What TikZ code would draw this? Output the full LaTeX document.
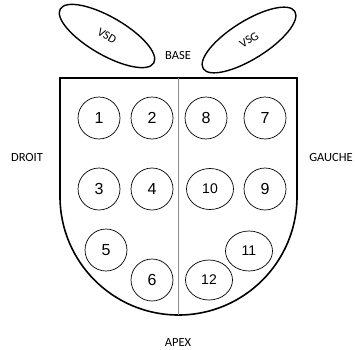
\documentclass[tikz,border=0pt]{standalone}
\usepackage{fontspec}
\setmainfont{Carlito}
\newfontfamily\numfont{Liberation Sans}
\usetikzlibrary{shapes.geometric}
\tikzset{
  seg/.style={circle,draw,line width=0.7pt,minimum size=42pt,inner sep=0pt,font=\numfont\fontsize{16}{16}\selectfont},
  segwide/.style={seg,ellipse,minimum width=47pt,minimum height=41pt},
  vent/.style={ellipse,draw,line width=1.4pt,minimum width=108pt,minimum height=38pt,inner sep=0pt,font=\fontsize{12}{12}\selectfont},
  side/.style={font=\fontsize{12.5}{13}\selectfont}
}
\begin{document}
\begin{tikzpicture}[x=1pt,y=1pt]
  \useasboundingbox (0,0) rectangle (355,349);
  % outline
  \draw[line width=1.6pt] (60,271) -- (297,271) -- (297,152.5) arc (0:-180:118.5) -- cycle;
  \coordinate (top) at (178.5,271);
  \coordinate (bottom) at (178.5,34);
  \draw[black!45,line width=0.5pt] (top) -- (bottom);
  % segments
  \node[seg] (s1) at (99,231) {1};
  \node[seg] (s2) at (152,231) {2};
  \node[seg] (s8) at (206,231) {8};
  \node[seg] (s7) at (265,231) {7};
  \node[seg] (s3) at (99,160) {3};
  \node[seg] (s4) at (152,160) {4};
  \node[segwide] (s10) at (210,160) {\fontsize{14}{14}\selectfont 10};
  \node[seg] (s9) at (265,160) {9};
  \node[seg] (s5) at (106,99) {5};
  \node[seg] (s6) at (152,69) {6};
  \node[segwide,minimum height=40pt] (s12) at (209,69) {\fontsize{14}{14}\selectfont 12};
  \node[segwide,minimum height=40pt] (s11) at (249,98) {\fontsize{14}{14}\selectfont 11};
  % ventricles
  \node[vent,rotate=-30] (vsd) at (107,313) {VSD};
  \node[vent,rotate=32] (vsg) at (249,309) {VSG};
  % labels
  \node[side] (base) at (178,294) {BASE};
  \node[side] (droit) at (27,192) {DROIT};
  \node[side] (gauche) at (331,192) {GAUCHE};
  \node[side] (apex) at (178,7) {APEX};
\end{tikzpicture}
\end{document}
